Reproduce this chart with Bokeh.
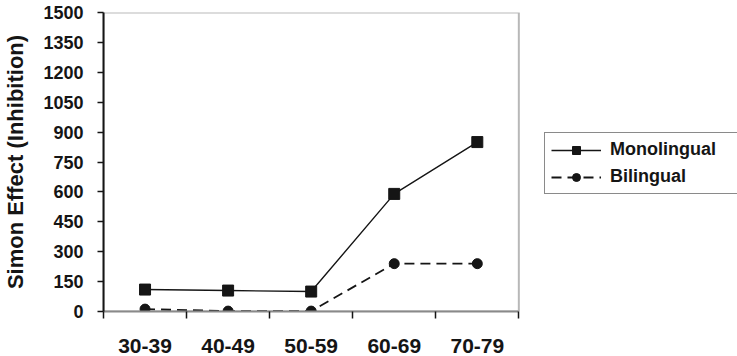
from bokeh.plotting import figure
from bokeh.models import Range1d, FixedTicker, LinearAxis, Legend, LegendItem, BoxAnnotation
from bokeh.embed import file_html
from bokeh.resources import INLINE

age_groups = ["30-39", "40-49", "50-59", "60-69", "70-79"]
monolingual = [110, 105, 100, 590, 850]
bilingual = [12, 2, 2, 240, 240]
y_ticks = list(range(0, 1501, 150))

FONT = "Liberation Sans"
INK = "#151515"

n = len(age_groups)
xpos = [i + 0.5 for i in range(n)]

W, H = 737, 356
LEFT = 102
PLOT_W = 416          # width in px of the boxed plotting area
x_end = n * (W - LEFT) / PLOT_W   # extend range so legend fits right of the box

p = figure(width=W, height=H, output_backend="svg", toolbar_location=None,
           x_range=Range1d(0, x_end), y_range=Range1d(0, y_ticks[-1]),
           min_border_left=LEFT, min_border_top=12, min_border_bottom=45,
           min_border_right=0, x_axis_type=None, y_axis_type=None)
p.grid.visible = False
p.outline_line_color = None
p.background_fill_color = "white"
p.border_fill_color = "white"

box = BoxAnnotation(left=0, right=n, bottom=0, top=y_ticks[-1], fill_alpha=0,
                    line_color=INK, line_width=2, level="underlay")
p.add_layout(box)

# bottom axis
xa = LinearAxis(ticker=FixedTicker(ticks=xpos, minor_ticks=list(range(n + 1))))
xa.bounds = (0, n)
xa.major_label_overrides = {v: lab for v, lab in zip(xpos, age_groups)}
xa.major_tick_line_color = None
xa.major_tick_out = 0
xa.major_tick_in = 0
xa.minor_tick_out = 7
xa.minor_tick_in = 0
xa.minor_tick_line_color = INK
xa.minor_tick_line_width = 1.5
xa.axis_line_color = "#8a8a8a"
xa.axis_line_width = 2
xa.major_label_standoff = 20
xa.major_label_text_font = FONT
xa.major_label_text_font_style = "bold"
xa.major_label_text_font_size = "21px"
xa.major_label_text_color = INK
p.add_layout(xa, "below")

# left axis
ya = LinearAxis(ticker=FixedTicker(ticks=y_ticks))
ya.axis_label = "Simon Effect (Inhibition)"
ya.axis_label_text_font = FONT
ya.axis_label_text_font_style = "bold"
ya.axis_label_text_font_size = "22px"
ya.axis_label_text_color = INK
ya.axis_label_standoff = 12
ya.major_tick_out = 6
ya.major_tick_in = 0
ya.minor_tick_line_color = None
ya.major_tick_line_color = INK
ya.major_tick_line_width = 1.5
ya.axis_line_color = INK
ya.axis_line_width = 2
ya.major_label_standoff = 14
ya.major_label_text_font = FONT
ya.major_label_text_font_style = "bold"
ya.major_label_text_font_size = "18px"
ya.major_label_text_color = INK
p.add_layout(ya, "left")

l1 = p.line(xpos, monolingual, line_color=INK, line_width=1.4)
s1 = p.scatter(xpos, monolingual, marker="square", size=11, fill_color=INK, line_color=INK)
l2 = p.line(xpos, bilingual, line_color=INK, line_width=1.8, line_dash="10 6")
s2 = p.scatter(xpos, bilingual, marker="circle", size=10, fill_color=INK, line_color=INK)

legend = Legend(items=[LegendItem(label="Monolingual", renderers=[l1, s1]),
                       LegendItem(label="Bilingual", renderers=[l2, s2])],
                location=(PLOT_W + 25, 117))
legend.glyph_width = 50
legend.glyph_height = 20
legend.label_height = 20
legend.label_width = 124
legend.label_standoff = 9
legend.padding = 6
legend.spacing = 6
legend.margin = 0
legend.border_line_color = INK
legend.border_line_width = 1.5
legend.label_text_font = FONT
legend.label_text_font_style = "bold"
legend.label_text_font_size = "18px"
legend.label_text_color = INK
legend.background_fill_alpha = 1
p.add_layout(legend, "center")

open("out.html", "w").write(file_html(p, INLINE))
